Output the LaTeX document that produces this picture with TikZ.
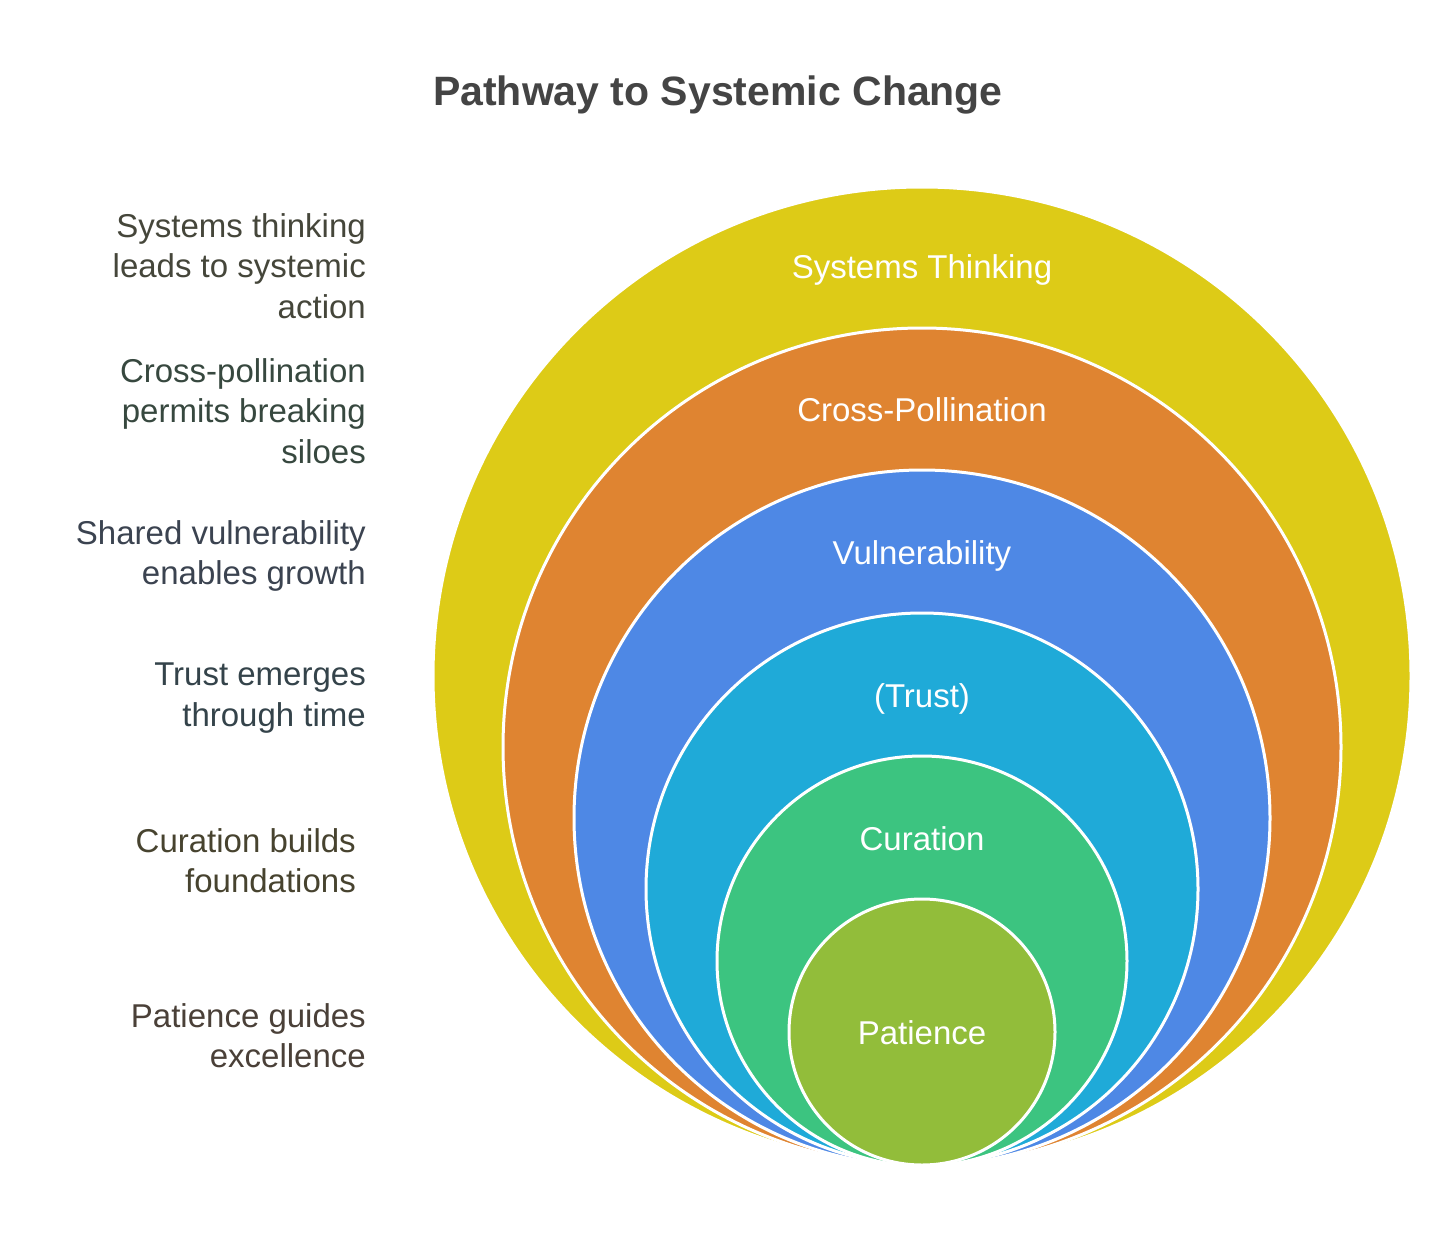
\documentclass[tikz,border=0pt]{standalone}
\usepackage{fontspec}
\setmainfont{Liberation Sans}
\definecolor{cYellow}{HTML}{DDCB17}
\definecolor{cOrange}{HTML}{DF8431}
\definecolor{cBlue}{HTML}{4E88E5}
\definecolor{cCyan}{HTML}{1FAAD8}
\definecolor{cGreen}{HTML}{3CC480}
\definecolor{cOlive}{HTML}{92BD3A}
\definecolor{cTitle}{HTML}{444444}
\definecolor{tA}{HTML}{45463A}
\definecolor{tB}{HTML}{37483F}
\definecolor{tC}{HTML}{3B4350}
\definecolor{tD}{HTML}{34434A}
\definecolor{tE}{HTML}{47432F}
\definecolor{tF}{HTML}{4A4038}
\begin{document}
\begin{tikzpicture}[x=1pt,y=-1pt,
  ring/.style={circle, draw=white, line width=3pt, inner sep=0pt},
  inlabel/.style={text=white, font=\fontsize{33}{40}\selectfont, inner sep=0pt, anchor=base},
  sidelabel/.style={align=right, anchor=north east, inner sep=0pt, font=\fontsize{33}{40.5}\selectfont}]
\useasboundingbox (0,0) rectangle (1456,1252);
\fill[white] (0,0) rectangle (1456,1252);
\node[font=\bfseries\fontsize{41}{48}\selectfont, text=cTitle, inner sep=0pt, anchor=base] (title) at (718,106) {Pathway to Systemic Change};
\node[ring, fill=cYellow, minimum size=978pt] (c1) at (922,676) {};
\node[ring, fill=cOrange, minimum size=838pt] (c2) at (922,747) {};
\node[ring, fill=cBlue, minimum size=696pt] (c3) at (922,818) {};
\node[ring, fill=cCyan, minimum size=552pt] (c4) at (922,889) {};
\node[ring, fill=cGreen, minimum size=410pt] (c5) at (922,961) {};
\node[ring, fill=cOlive, minimum size=266pt] (c6) at (922,1032) {};
\node[inlabel] (l1) at (922,278) {Systems Thinking};
\node[inlabel] (l2) at (922,421) {Cross-Pollination};
\node[inlabel] (l3) at (922,564) {Vulnerability};
\node[inlabel] (l4) at (922,707) {(Trust)};
\node[inlabel] (l5) at (922,850) {Curation};
\node[inlabel] (l6) at (922,1044) {Patience};
\node[sidelabel, text=tA] (s1) at (366,213) {Systems thinking\\leads to systemic\\action};
\node[sidelabel, text=tB] (s2) at (366,358) {Cross-pollination\\permits breaking\\siloes};
\node[sidelabel, text=tC] (s3) at (366,520) {Shared vulnerability\\enables growth};
\node[sidelabel, text=tD] (s4) at (366,663) {Trust emerges\\through time};
\node[sidelabel, text=tE] (s5) at (356,828) {Curation builds\\foundations};
\node[sidelabel, text=tF] (s6) at (366,1003) {Patience guides\\excellence};
\end{tikzpicture}
\end{document}
